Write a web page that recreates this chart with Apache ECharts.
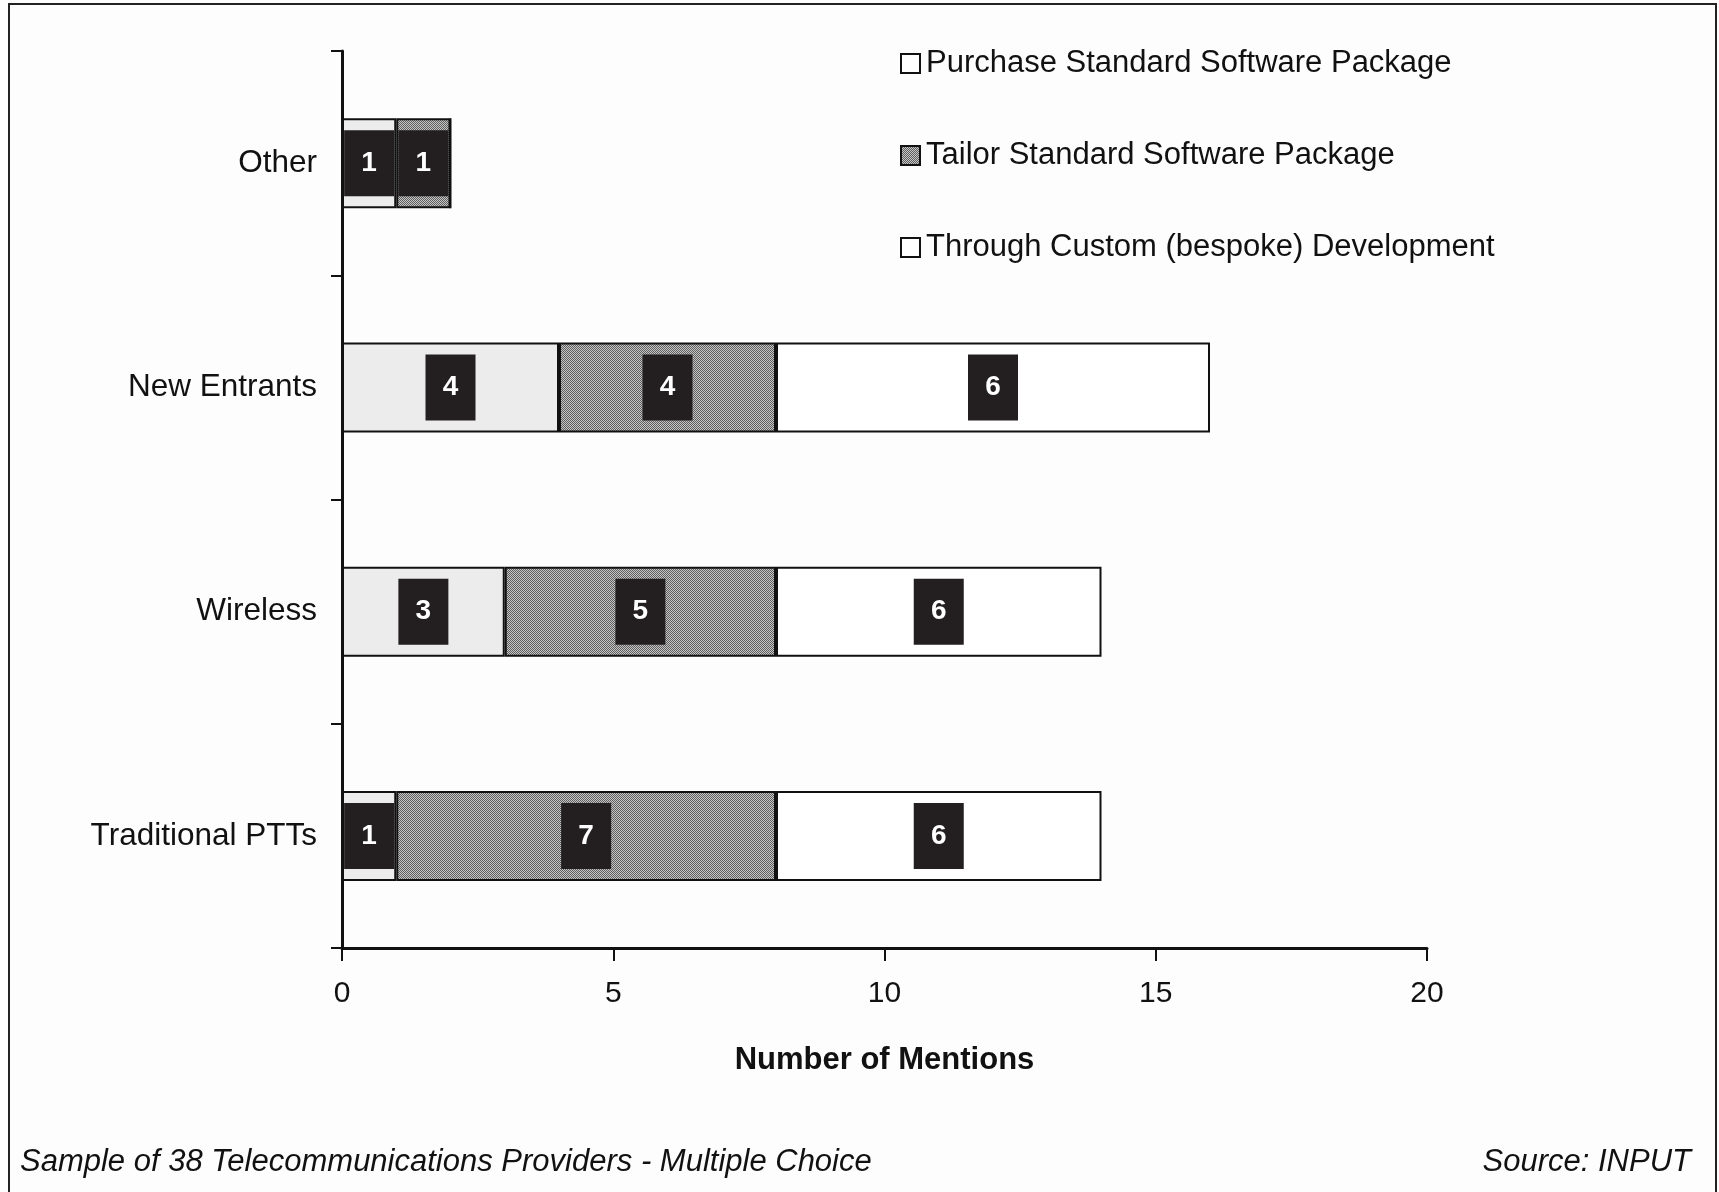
<!DOCTYPE html>
<html>
<head>
<meta charset="utf-8">
<script src="https://cdn.jsdelivr.net/npm/echarts@6/dist/echarts.min.js"></script>
<style>
html,body{margin:0;padding:0;background:#fdfdfd;}
#chart{width:1719px;height:1192px;}
</style>
</head>
<body>
<div id="chart"></div>
<script>
// ---- data ----
const categories = ['Traditional PTTs', 'Wireless', 'New Entrants', 'Other'];
const seriesNames = ['Purchase Standard Software Package', 'Tailor Standard Software Package', 'Through Custom (bespoke) Development'];
const purchaseValues = [1, 3, 4, 1];
const tailorValues = [7, 5, 4, 1];
const customValues = [6, 6, 8, 0];
const customLabels = ['6', '6', '6', ''];
const xTicks = [0, 5, 10, 15, 20];
const xAxisTitle = 'Number of Mentions';
const footLeft = 'Sample of 38 Telecommunications Providers - Multiple Choice';
const footRight = 'Source: INPUT';

// stipple pattern
const pc = document.createElement('canvas');
pc.width = 2; pc.height = 2;
const pctx = pc.getContext('2d');
pctx.fillStyle = '#c6c6c6'; pctx.fillRect(0, 0, 2, 2);
pctx.fillStyle = '#5e5e5e'; pctx.fillRect(0, 0, 1, 1); pctx.fillRect(1, 1, 1, 1);
const stipple = { image: pc, repeat: 'repeat' };

const FONT = '"Liberation Sans", Arial, Helvetica, sans-serif';

const labelStyle = {
  show: true,
  position: 'inside',
  color: '#ffffff',
  fontFamily: FONT,
  fontSize: 28,
  fontWeight: 'bold',
  backgroundColor: '#231f20',
  width: 50,
  height: 66,
  lineHeight: 66,
  align: 'center',
  verticalAlign: 'middle',
  padding: 0
};

function mk(values, labels) {
  return values.map((v, i) => ({
    value: v,
    label: { show: v > 0 && (!labels || labels[i] !== ''), formatter: labels ? labels[i] : String(v) }
  }));
}

const chart = echarts.init(document.getElementById('chart'), null, { renderer: 'canvas' });
chart.setOption({
  backgroundColor: '#fdfdfd',
  animation: false,
  textStyle: { fontFamily: FONT },
  grid: { left: 342, right: 292, top: 51, bottom: 244, containLabel: false },
  legend: {
    orient: 'vertical',
    left: 895,
    top: 43,
    icon: 'rect',
    itemWidth: 19,
    itemHeight: 19,
    itemGap: 61,
    textStyle: { fontFamily: FONT, fontSize: 31, color: '#111', lineHeight: 30, padding: [0, 0, 0, 1] },
    data: [
      { name: seriesNames[0], itemStyle: { color: '#ffffff', borderColor: '#111', borderWidth: 2 } },
      { name: seriesNames[1], itemStyle: { color: stipple, borderColor: '#111', borderWidth: 2 } },
      { name: seriesNames[2], itemStyle: { color: '#ffffff', borderColor: '#111', borderWidth: 2 } }
    ]
  },
  xAxis: {
    type: 'value',
    min: 0, max: 20, interval: 5,
    splitLine: { show: false },
    axisLine: { show: true, lineStyle: { color: '#111', width: 3 } },
    axisTick: { show: true, length: 13, lineStyle: { color: '#111', width: 2 } },
    axisLabel: { margin: 31, fontSize: 30, color: '#111', fontFamily: FONT,
      formatter: v => xTicks.indexOf(v) >= 0 ? String(v) : '' },
    name: xAxisTitle,
    nameLocation: 'middle',
    nameGap: 97,
    nameTextStyle: { fontSize: 31, fontWeight: 'bold', color: '#111', fontFamily: FONT }
  },
  yAxis: {
    type: 'category',
    data: categories,
    boundaryGap: true,
    axisLine: { show: true, lineStyle: { color: '#111', width: 3 } },
    axisTick: { show: true, length: 11, lineStyle: { color: '#111', width: 2 } },
    axisLabel: { margin: 25, fontSize: 31.5, color: '#111', fontFamily: FONT },
    splitLine: { show: false }
  },
  series: [
    { name: seriesNames[0], type: 'bar', stack: 'a', barWidth: 90, data: mk(purchaseValues),
      itemStyle: { color: '#ececec', borderColor: '#111', borderWidth: 2 }, label: labelStyle },
    { name: seriesNames[1], type: 'bar', stack: 'a', barWidth: 90, data: mk(tailorValues),
      itemStyle: { color: stipple, borderColor: '#111', borderWidth: 2 }, label: labelStyle },
    { name: seriesNames[2], type: 'bar', stack: 'a', barWidth: 90, data: mk(customValues, customLabels),
      itemStyle: { color: '#ffffff', borderColor: '#111', borderWidth: 2 }, label: labelStyle }
  ],
  graphic: [
    { type: 'polyline', shape: { points: [[9, 1192], [9, 4], [1716, 4], [1716, 1192]] },
      style: { stroke: '#222', lineWidth: 2, fill: null }, silent: true },
    { type: 'text', left: 20, top: 1147,
      style: { text: footLeft, font: 'italic 31px ' + FONT, fill: '#111' } },
    { type: 'text', right: 28, top: 1147,
      style: { text: footRight, font: 'italic 31px ' + FONT, fill: '#111' } }
  ]
});
</script>
</body>
</html>
